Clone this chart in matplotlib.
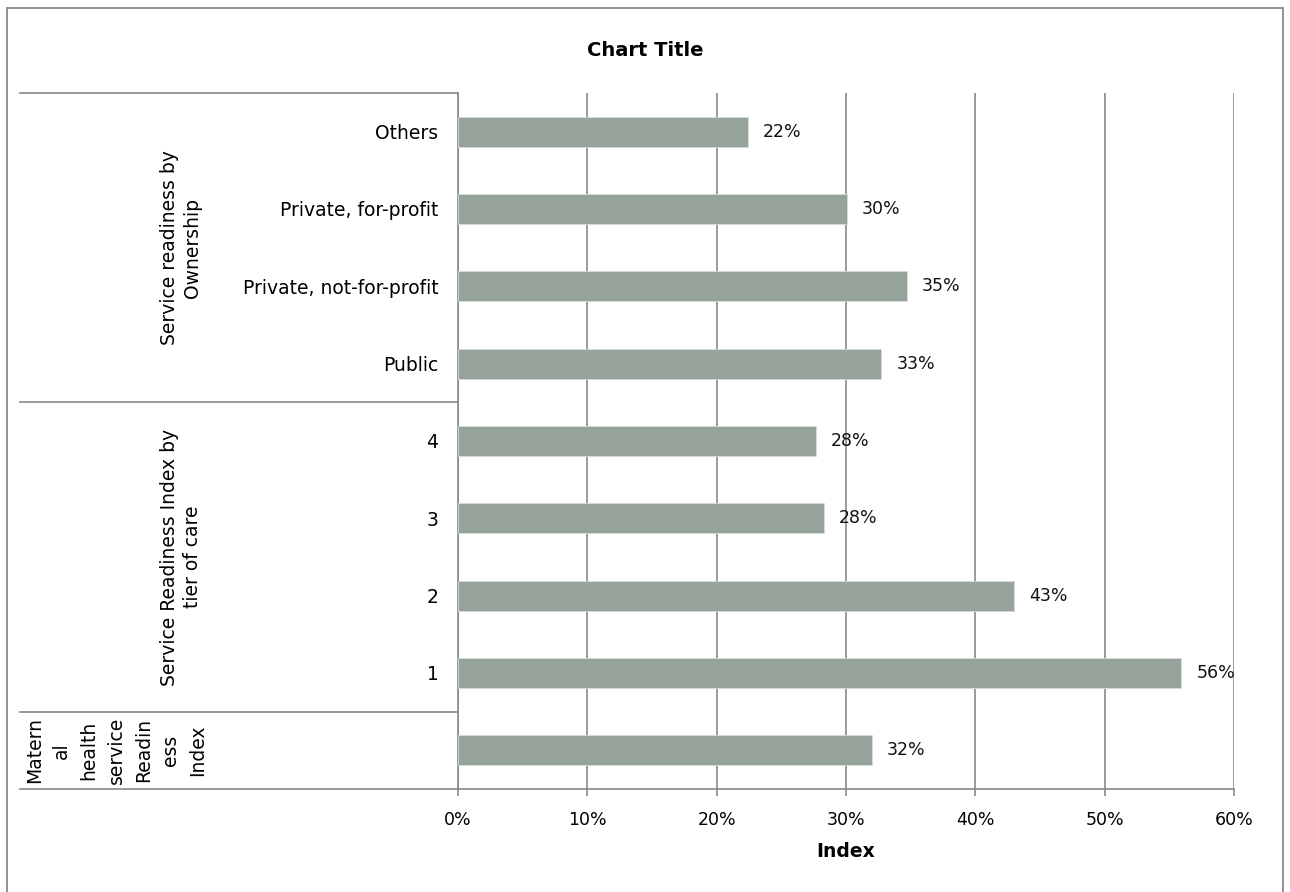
import numpy as np
import matplotlib
matplotlib.use("Agg")
import matplotlib.pyplot as plt
import matplotlib.transforms as mtransforms
from matplotlib.patches import Rectangle
from matplotlib.ticker import PercentFormatter

########################################
# DATA
########################################
sub_labels = ["Others", "Private, for-profit", "Private, not-for-profit", "Public",
              "4", "3", "2", "1", ""]
values = [22.4, 30.05, 34.7, 32.7, 27.65, 28.27, 43.0, 55.9, 32.0]
groups = ["Service readiness by\nOwnership",
          "Service Readiness Index by\ntier of care",
          "Matern\nal\nhealth\nservice\nReadin\ness\nIndex"]
group_sizes = [4, 4, 1]
x_ticks = [0, 10, 20, 30, 40, 50, 60]

BAR = "#95a39a"
GRID = "#898989"

plt.rcParams["font.family"] = ["DejaVu Sans"]

########################################
# FIGURE
########################################
W, H = 1290, 892
fig = plt.figure(figsize=(W / 100, H / 100), dpi=100)

# outer chart border
fig.patches.append(Rectangle((7 / W, -0.01), (1283 - 7) / W, 1 - 8 / H + 0.01,
                             transform=fig.transFigure, fill=False,
                             edgecolor=GRID, linewidth=1.3))

left, right, top, bottom = 458, 1234, 93, 789
ax = fig.add_axes([left / W, 1 - bottom / H, (right - left) / W, (bottom - top) / H])

y = np.arange(len(values))
ax.barh(y, values, height=0.39, color=BAR, edgecolor="#d5dbd7", linewidth=0.6, zorder=3)
ax.set_ylim(len(values) - 0.5, -0.5)
ax.set_xlim(0, 60)

for yi, v in zip(y, values):
    ax.annotate(f"{v:.0f}%", (v, yi), xytext=(11, 0), textcoords="offset points",
                va="center", ha="left", fontsize=12.5, color="#111111", zorder=4)

ax.set_xticks(x_ticks)
ax.xaxis.set_major_formatter(PercentFormatter(decimals=0))
ax.tick_params(axis="x", length=5, width=1.2, color=GRID, pad=11, labelsize=12.5)
ax.set_yticks(y)
ax.set_yticklabels(sub_labels, fontsize=13.5)
ax.tick_params(axis="y", length=0, pad=14)
ax.xaxis.grid(True, color=GRID, linewidth=1.2, zorder=0)

for s in ["top", "right"]:
    ax.spines[s].set_visible(False)
for s in ["left", "bottom"]:
    ax.spines[s].set_color(GRID)
    ax.spines[s].set_linewidth(1.2)

ax.set_xlabel("Index", fontsize=13.5, fontweight="bold", labelpad=9)

########################################
# MULTI-LEVEL CATEGORY AXIS
########################################
trans = mtransforms.blended_transform_factory(ax.transAxes, ax.transData)
x0 = -(left - 20) / (right - left)
bounds = np.concatenate([[0], np.cumsum(group_sizes)]) - 0.5
for b in bounds:
    ax.plot([x0, 0], [b, b], transform=trans, color=GRID, linewidth=1.2, clip_on=False)

grp_x = [-(left - 181) / (right - left), -(left - 181) / (right - left),
         -(left - 116) / (right - left)]
grp_spacing = [1.3, 1.3, 1.55]
for g, lo, hi, gx, ls in zip(groups, bounds[:-1], bounds[1:], grp_x, grp_spacing):
    ax.text(gx, (lo + hi) / 2, g, transform=trans, rotation=90, ha="center",
            va="center", multialignment="center", fontsize=13.5, linespacing=ls)

fig.text(0.5, 1 - 50 / H, "Chart Title", ha="center", va="center",
         fontsize=14, fontweight="bold")

fig.savefig("out.png", dpi=100)
